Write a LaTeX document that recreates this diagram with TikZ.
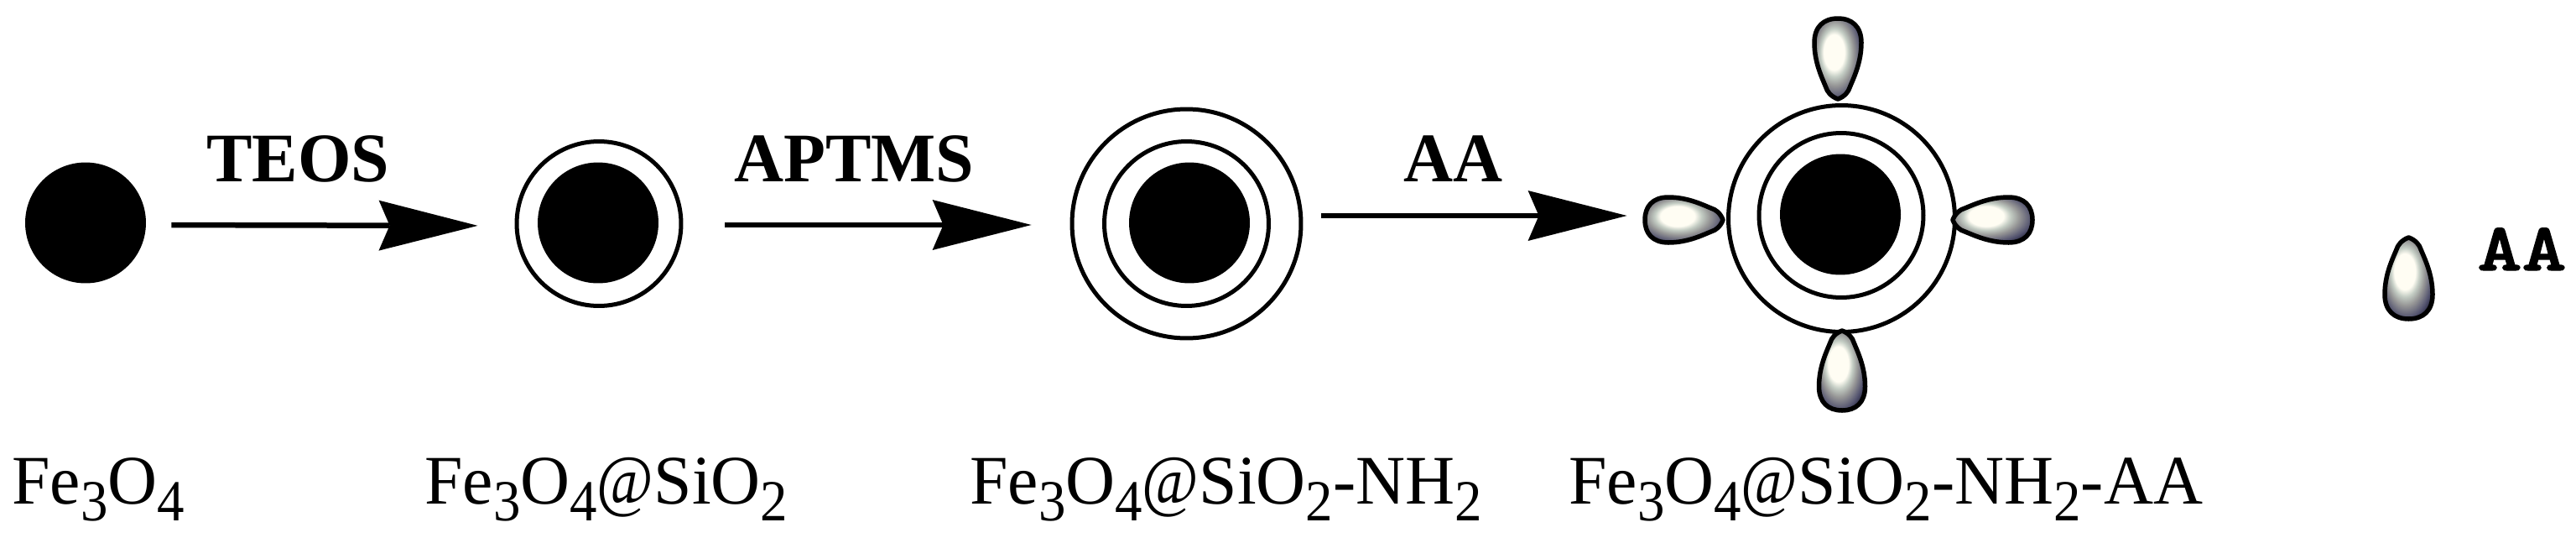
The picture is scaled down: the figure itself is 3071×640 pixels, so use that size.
\documentclass[tikz,border=0pt]{standalone}
\usepackage{fontspec}
\usetikzlibrary{arrows.meta}
\setmainfont{Liberation Serif}
\newfontfamily\keyfont[Extension=.otf,RawFeature={embolden=1.5}]{lmmonolt10-bold}
\definecolor{hotc}{RGB}{255,253,243}
\definecolor{midc}{RGB}{196,205,196}
\definecolor{grayc}{RGB}{150,150,150}
\definecolor{slatec}{RGB}{82,82,110}
\definecolor{darkc}{RGB}{20,20,40}
\pgfdeclareradialshading{lobeglow}{\pgfpoint{-5bp}{5bp}}{
  color(0bp)=(hotc);color(11bp)=(hotc);color(15bp)=(midc);color(20bp)=(grayc);color(27bp)=(slatec);color(33bp)=(darkc);color(60bp)=(darkc)}
\newcommand\sbs[1]{\raisebox{-0.4cm}{\scalebox{0.95}[1]{\fontsize{39.5}{42}\selectfont #1}}}
\newcommand\at{\scalebox{0.9}[1]{@}}
\newcommand\lobe[6]{% x y rotation halfwidth length name
  \begin{scope}[shift={(#1,#2)},rotate=#3,xscale=#4/30,yscale=#5/100]
    \coordinate (#6) at (0,0);
    \path[lobeshape] (0,0) .. controls (-9,3) and (-14,10) .. (-15,14)
      .. controls (-20,26) and (-30,45) .. (-30,70)
      .. controls (-30,90) and (-18,100) .. (0,100)
      .. controls (18,100) and (30,90) .. (30,70)
      .. controls (30,45) and (20,26) .. (15,14)
      .. controls (14,10) and (9,3) .. (0,0) -- cycle;
  \end{scope}}
\tikzset{
  core/.style={circle,fill=black,inner sep=0pt,minimum size=2.88cm},
  ring/.style={circle,draw=black,line width=0.1cm,inner sep=0pt,fill=white},
  reaction/.style={line width=0.13cm,-{Stealth[length=2.36cm,width=1.2cm,inset=0.26cm,line width=0pt]}},
  lobeshape/.style={draw=black,line width=0.11cm,line join=round,shading=lobeglow},
  formula/.style={anchor=base west,inner sep=0pt,xscale=0.985,font=\fontsize{47.2}{50}\selectfont},
  reagent/.style={anchor=base west,inner sep=0pt,xscale=0.985,font=\fontsize{47.2}{50}\selectfont\bfseries},
  legendtext/.style={anchor=base west,inner sep=0pt,xscale=1.25,font=\fontsize{46}{48}\keyfont}
}
\begin{document}
\begin{tikzpicture}[x=0.02cm,y=-0.02cm]
\useasboundingbox (0,0) rectangle (3071,640);
% particles
\node[core] (coreA) at (102,265.5) {};
\node[ring,minimum size=3.92cm] (shellB) at (714,266.5) {};
\node[core] (coreB) at (713,265.5) {};
\node[ring,minimum size=5.46cm] (outerC) at (1414.5,266.5) {};
\node[ring,minimum size=3.92cm] (shellC) at (1414.5,266.5) {};
\node[core] (coreC) at (1418,265.5) {};
\node[ring,minimum size=5.40cm] (outerD) at (2195.5,260.5) {};
\node[ring,minimum size=3.92cm] (shellD) at (2195,256.5) {};
\node[core] (coreD) at (2194,255.5) {};
% lobes
\lobe{2191}{118}{180}{28}{96}{lobeN}
\lobe{2196}{394}{0}{27.5}{95}{lobeS}
\lobe{2054}{262}{-90}{27}{93}{lobeW}
\lobe{2328}{262}{90}{27}{95}{lobeE}
\lobe{2871.5}{283}{0}{28.5}{97}{lobeKey}
% connectors
\coordinate (lobeWend) at (1958,257);
\draw[reaction,shorten <=0.6cm,shorten >=0.88cm] ([yshift=-0.05cm]coreA.east) -- ([yshift=-0.05cm]shellB.west);
\draw[reaction,shorten <=1cm,shorten >=0.92cm] ([yshift=-0.03cm]shellB.east) -- ([yshift=-0.03cm]outerC.west);
\draw[reaction,shorten <=0.44cm,shorten >=0.37cm] (outerC.east |- lobeWend) -- (lobeWend);
% texts
\node[reagent] (teos) at (246,216.7) {TEOS};
\node[reagent] (aptms) at (875,216.7) {APTMS};
\node[reagent] (aa) at (1673,216.7) {AA};
\node[formula] (labelA) at (14,600) {Fe\sbs{3}O\sbs{4}};
\node[formula] (labelB) at (506,600) {Fe\sbs{3}O\sbs{4}\at SiO\sbs{2}};
\node[formula] (labelC) at (1156,600) {Fe\sbs{3}O\sbs{4}\at SiO\sbs{2}-NH\sbs{2}};
\node[formula] (labelD) at (1870,600) {Fe\sbs{3}O\sbs{4}\at SiO\sbs{2}-NH\sbs{2}-AA};
\node[legendtext] (keyAA) at (2953,322) {AA};
\end{tikzpicture}
\end{document}
